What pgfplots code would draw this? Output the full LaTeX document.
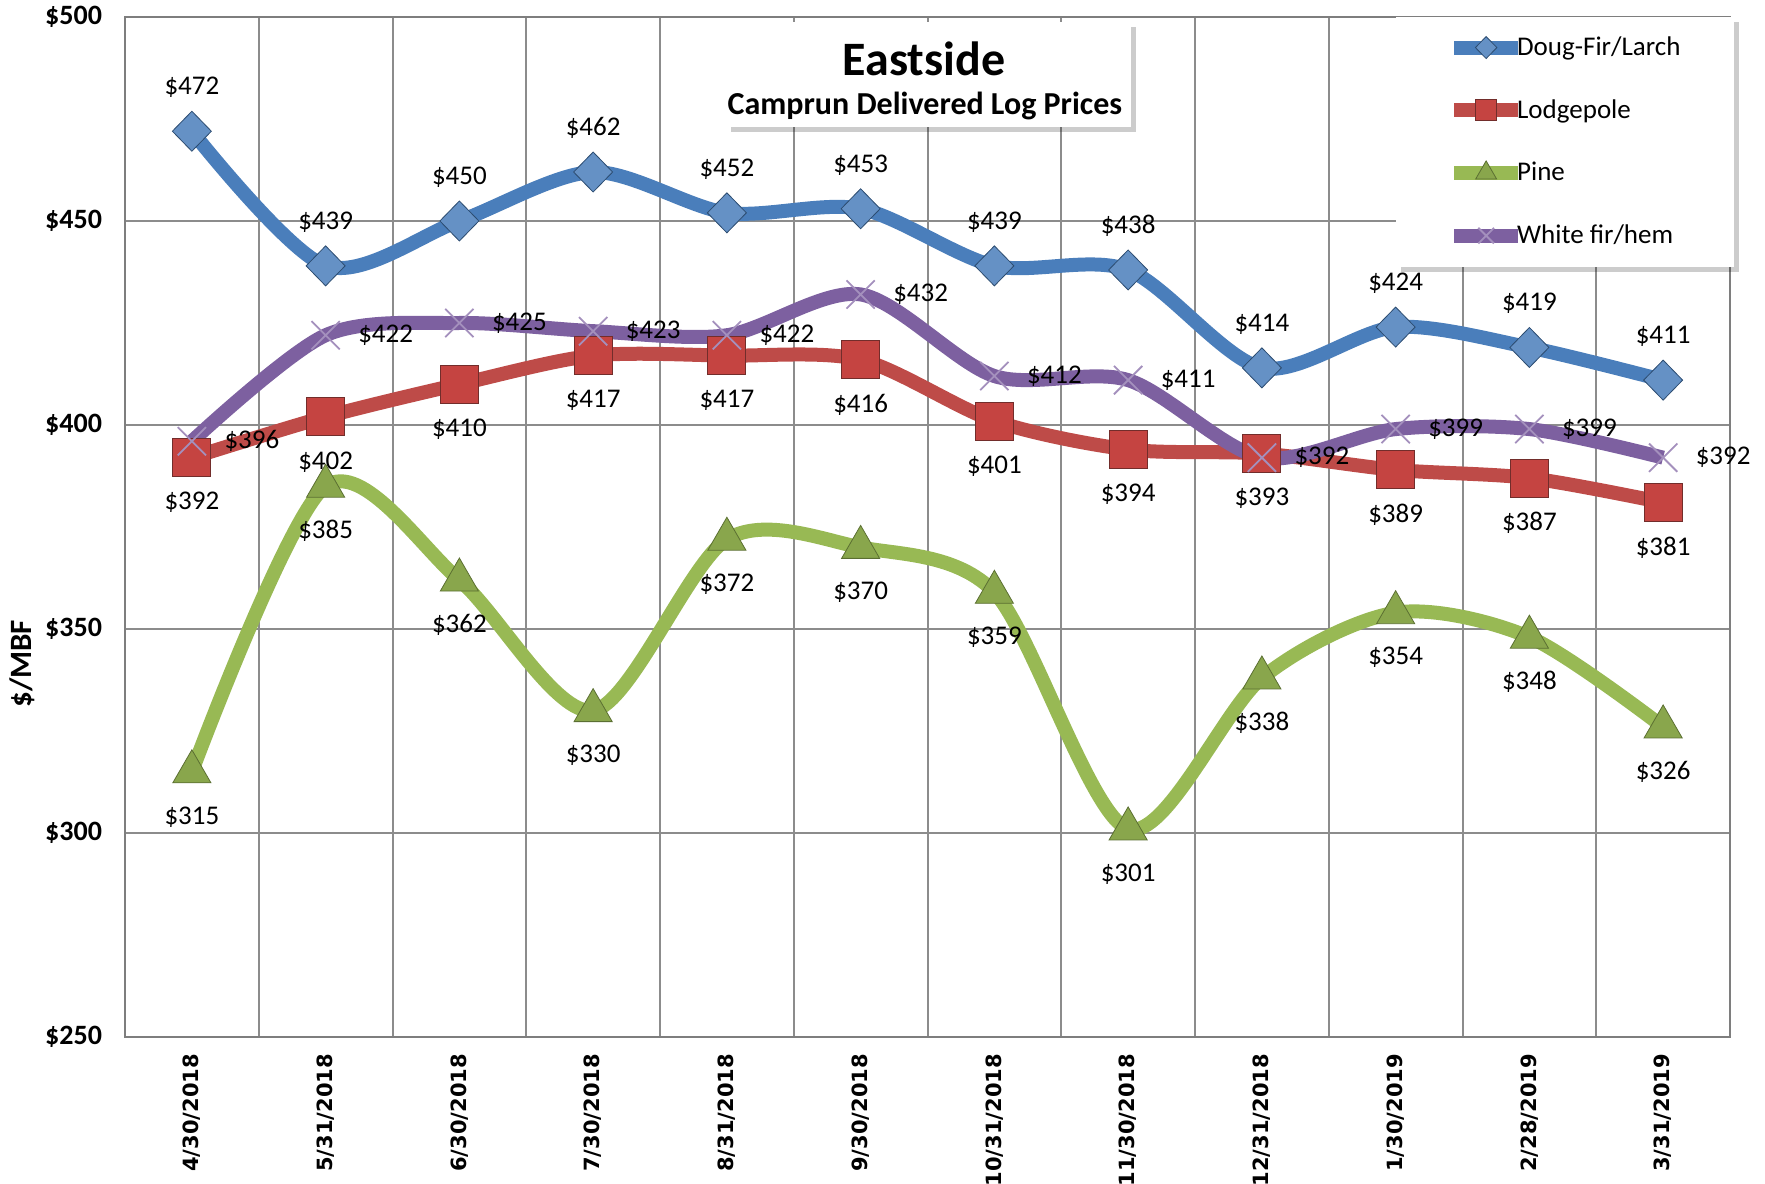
\documentclass[border=0pt]{standalone}
\usepackage{fontspec}
\setmainfont{Carlito}
\newfontfamily\dejavu{DejaVu Sans}
\usepackage{pgfplots}
\pgfplotsset{compat=1.18}
\usetikzlibrary{shadows}
\definecolor{cBlue}{HTML}{4A7EBB}
\definecolor{cRed}{HTML}{BE4B48}
\definecolor{cGreen}{HTML}{98B954}
\definecolor{cPurple}{HTML}{7D60A0}
\definecolor{gridc}{HTML}{8C8C8C}
\begin{document}
\begin{tikzpicture}
\useasboundingbox (-62.5pt,-73pt) rectangle (820pt,518.5pt);
\begin{axis}[
  at={(0,0)}, anchor=south west,
  scale only axis, width=802.5pt, height=510pt,
  xmin=-0.5, xmax=11.5, ymin=250, ymax=500,
  xtick={0,...,11},
  xticklabels={4/30/2018,5/31/2018,6/30/2018,7/30/2018,8/31/2018,9/30/2018,10/31/2018,11/30/2018,12/31/2018,1/30/2019,2/28/2019,3/31/2019},
  x tick label style={rotate=90, anchor=east, font=\dejavu\bfseries\fontsize{10.5}{12}\selectfont, xshift=-5pt},
  ytick={250,300,...,500},
  yticklabels={\$250,\$300,\$350,\$400,\$450,\$500},
  y tick label style={font=\bfseries\fontsize{14}{16}\selectfont, xshift=-8pt},
  major tick length=0pt, minor tick length=0pt,
  minor xtick={0.5,1.5,...,10.5},
  xminorgrids, ymajorgrids,
  grid style={gridc, line width=1pt},
  minor grid style={gridc, line width=1pt},
  axis line style={gridc!90!black, line width=1.2pt},
  clip=false,
  ylabel={\$/MBF},
  ylabel style={at={(axis description cs:-0.064,0.366)}, anchor=center, font=\bfseries\fontsize{15.5}{17}\selectfont},
  nodes near coords={\$\pgfmathprintnumber[fixed,precision=0,assume math mode=true]{\pgfplotspointmeta}},
  every node near coord/.append style={text=black, font=\fontsize{13.5}{15}\selectfont},
  legend style={at={(axis description cs:0.8235,0.985)}, anchor=north west, draw=none, fill=none, inner sep=0pt, row sep=16.5pt, column sep=-4pt, font=\fontsize{13.5}{15}\selectfont, nodes={inner xsep=0pt}},
  legend cell align=left,
  legend image code/.code={\draw[#1, /tikz/every mark/.append style={scale=0.55}, mark repeat=2, mark phase=2] plot coordinates {(0pt,0pt) (16pt,0pt) (32pt,0pt)};},
]
\addplot[cBlue, line width=7pt, smooth, mark=diamond*, mark size=10pt,
  mark options={xscale=1.3, fill=cBlue!85!white, draw=cBlue!60!black, line width=0.4pt},
  every node near coord/.append style={anchor=center, yshift=22pt}]
  coordinates {(0,472) (1,439) (2,450) (3,462) (4,452) (5,453) (6,439) (7,438) (8,414) (9,424) (10,419) (11,411)};
\addlegendentry{Doug-Fir/Larch}
\addplot[cRed, line width=7pt, smooth, mark=square*, mark size=9.5pt,
  mark options={fill=cRed!90!red, draw=cRed!60!black, line width=0.4pt},
  every node near coord/.append style={anchor=center, yshift=-22.5pt}]
  coordinates {(0,392) (1,402) (2,410) (3,417) (4,417) (5,416) (6,401) (7,394) (8,393) (9,389) (10,387) (11,381)};
\addlegendentry{Lodgepole}
\addplot[cGreen, line width=7pt, smooth, mark=triangle*, mark size=11pt,
  mark options={fill=cGreen!90!black, draw=cGreen!60!black, line width=0.4pt},
  every node near coord/.append style={anchor=center, yshift=-22.5pt}]
  coordinates {(0,315) (1,385) (2,362) (3,330) (4,372) (5,370) (6,359) (7,301) (8,338) (9,354) (10,348) (11,326)};
\addlegendentry{Pine}
\addplot[cPurple, line width=7pt, smooth, mark=x, mark size=10pt,
  mark options={draw=cPurple!70!white, line width=0.9pt},
  every node near coord/.append style={anchor=center, xshift=30pt}]
  coordinates {(0,396) (1,422) (2,425) (3,423) (4,422) (5,432) (6,412) (7,411) (8,392) (9,399) (10,399) (11,392)};
\addlegendentry{White fir/hem}
% title box
\node[fill=white, draw=none, drop shadow={shadow xshift=2.5pt, shadow yshift=-2.5pt, opacity=0.2, fill=black},
  minimum width=202.5pt, minimum height=52.5pt, anchor=north west, inner sep=0pt]
  at (axis description cs:0.3745,0.995) {};
\node[font=\bfseries\fontsize{24}{28}\selectfont, inner sep=0pt] at (axis description cs:0.4978,0.9593) {Eastside};
\node[font=\bfseries\fontsize{16}{18}\selectfont, inner sep=0pt] at (axis description cs:0.4984,0.9127) {Camprun Delivered Log Prices};
% legend box
\node[fill=white, draw=none, drop shadow={shadow xshift=2.5pt, shadow yshift=-2.5pt, opacity=0.2, fill=black},
  minimum width=169pt, minimum height=125pt, anchor=north west, inner sep=0pt]
  at (axis description cs:0.7919,1.0) {};
\end{axis}
\end{tikzpicture}
\end{document}
